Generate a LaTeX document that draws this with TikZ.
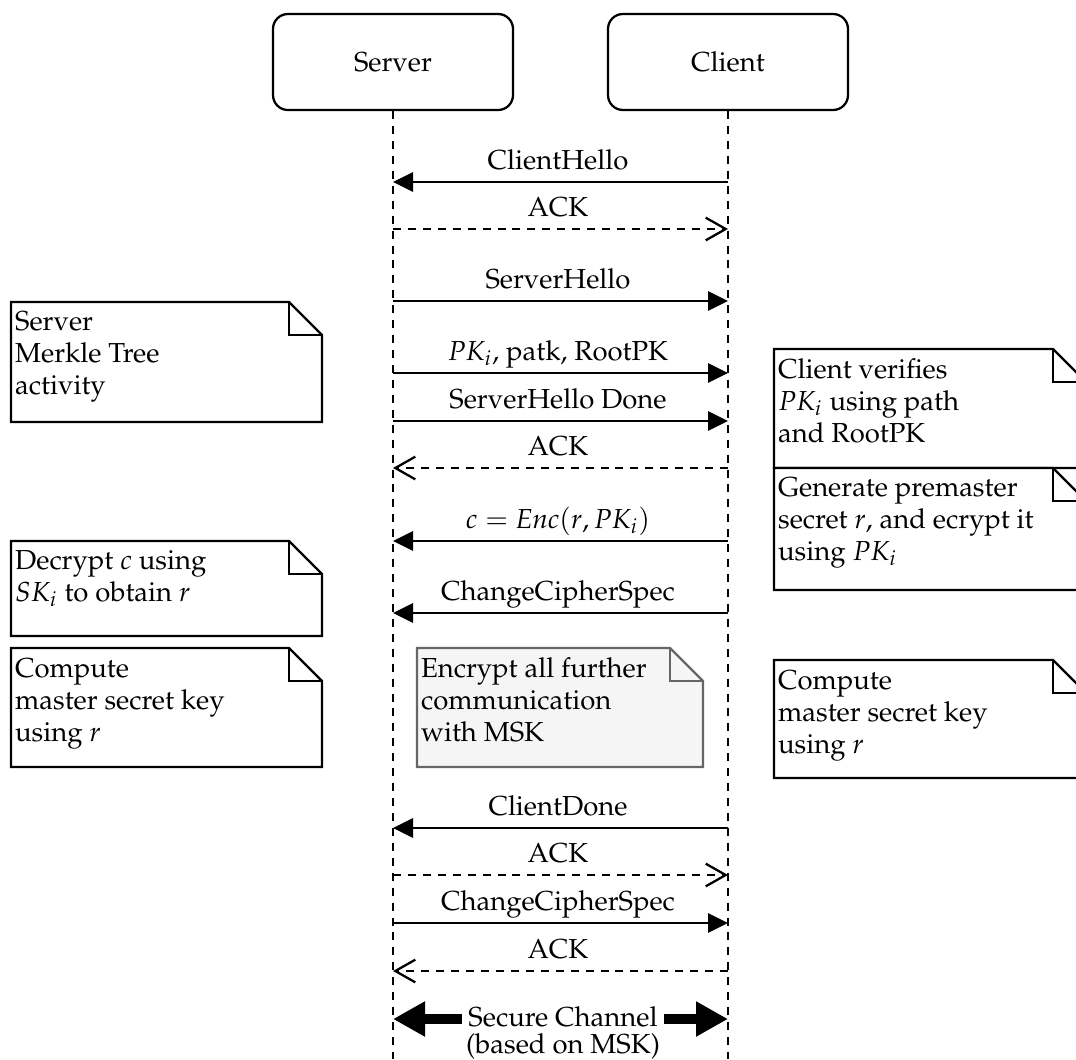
\documentclass[tikz,border=0pt]{standalone}
\usepackage[T1]{fontenc}
\usepackage{mathpazo}
\usetikzlibrary{arrows.meta}
\definecolor{notefill}{HTML}{F5F5F5}
\definecolor{notedraw}{HTML}{666666}
\newcommand\mynote[6][black]{%
  \draw[draw=#1,line width=0.85pt,fill=#6] (#2,#3) -- ({#4-33},#3) -- (#4,{#3+33}) -- (#4,#5) -- (#2,#5) -- cycle;
  \draw[draw=#1,line width=0.85pt] ({#4-33},#3) -- ({#4-33},{#3+33}) -- (#4,{#3+33});
}
\begin{document}
\begin{tikzpicture}[x=0.375pt,y=-0.375pt,line width=0.85pt,
  font=\fontsize{10.3}{12}\selectfont,
  actor/.style={draw,rounded corners=5.6pt,minimum width=90pt,minimum height=36pt,inner sep=0pt},
  lifeline/.style={dash pattern=on 3pt off 2.6pt},
  syncmsg/.style={-{Triangle[length=7.5pt,width=7.2pt]}},
  replymsg/.style={dash pattern=on 3pt off 2.6pt,-{Straight Barb[length=7.5pt,width=8.5pt,line width=0.85pt]}},
  msglabel/.style={anchor=base,inner sep=0pt},
  notetext/.style={anchor=north west,inner sep=0pt,align=left},
  bigarrow/.style={line width=3.75pt,-{Triangle[length=12pt,width=12.4pt]}}]
\useasboundingbox (0,0) rectangle (1076,1059);

% actors
\node[actor] (S) at (393,62) {Server};
\node[actor] (C) at (728,62) {Client};
\coordinate (Send) at (393,1059);
\coordinate (Cend) at (728,1059);
\draw[lifeline] (S.south) -- (Send);
\draw[lifeline] (C.south) -- (Cend);

% message anchor points
\newcommand\lane[2]{\coordinate (s#1) at (393,#2); \coordinate (c#1) at (728,#2);}
\lane{1}{182}\lane{2}{229}\lane{3}{301}\lane{4}{373}\lane{5}{421}\lane{6}{468}
\lane{7}{541}\lane{8}{613}\lane{9}{828}\lane{10}{875}\lane{11}{923}\lane{12}{971}\lane{13}{1019}

% messages
\draw[syncmsg] (c1) -- (s1);
\node[msglabel] (m1) at (558,169) {ClientHello};
\draw[replymsg] (s2) -- (c2);
\node[msglabel] (m2) at (558,216) {ACK};
\draw[syncmsg] (s3) -- (c3);
\node[msglabel] (m3) at (558,288) {ServerHello};
\draw[syncmsg] (s4) -- (c4);
\node[msglabel] (m4) at (558,360) {$PK_i$, patk, RootPK};
\draw[syncmsg] (s5) -- (c5);
\node[msglabel] (m5) at (558,408) {ServerHello Done};
\draw[replymsg] (c6) -- (s6);
\node[msglabel] (m6) at (558,455) {ACK};
\draw[syncmsg] (c7) -- (s7);
\node[msglabel] (m7) at (558,528) {$c = \mathit{Enc}(r, PK_i)$};
\draw[syncmsg] (c8) -- (s8);
\node[msglabel] (m8) at (558,600) {ChangeCipherSpec};
\draw[syncmsg] (c9) -- (s9);
\node[msglabel] (m9) at (558,815) {ClientDone};
\draw[replymsg] (s10) -- (c10);
\node[msglabel] (m10) at (558,862) {ACK};
\draw[syncmsg] (s11) -- (c11);
\node[msglabel] (m11) at (558,910) {ChangeCipherSpec};
\draw[replymsg] (c12) -- (s12);
\node[msglabel] (m12) at (558,958) {ACK};

% secure channel
\node[inner sep=1.2pt,align=center,anchor=north,font=\fontsize{10.3}{10.2}\selectfont] (sc) at (563,1002) {Secure Channel\\(based on MSK)};
\draw[bigarrow] (sc.west |- s13) -- (s13);
\draw[bigarrow] (sc.east |- c13) -- (c13);

% notes
\mynote{11}{302}{322}{422}{white}
\node[notetext] (n1) at (14,310) {Server\\Merkle Tree\\activity};
\mynote{774}{349}{1086}{468}{white}
\node[notetext] (n2) at (777,357) {Client verifies\\$PK_i$ using path\\and RootPK};
\mynote{774}{468}{1086}{590}{white}
\node[notetext] (n3) at (777,476) {Generate premaster\\secret $r$, and ecrypt it\\using $PK_i$};
\mynote{11}{541}{322}{636}{white}
\node[notetext] (n4) at (14,549) {Decrypt $c$ using\\$SK_i$ to obtain $r$};
\mynote{11}{648}{322}{767}{white}
\node[notetext] (n5) at (14,657) {Compute\\master secret key\\using $r$};
\mynote[notedraw]{417}{648}{703}{767}{notefill}
\node[notetext] (n6) at (420,656) {Encrypt all further\\communication\\with MSK};
\mynote{774}{660}{1086}{778}{white}
\node[notetext] (n7) at (777,669) {Compute\\master secret key\\using $r$};
\end{tikzpicture}
\end{document}
